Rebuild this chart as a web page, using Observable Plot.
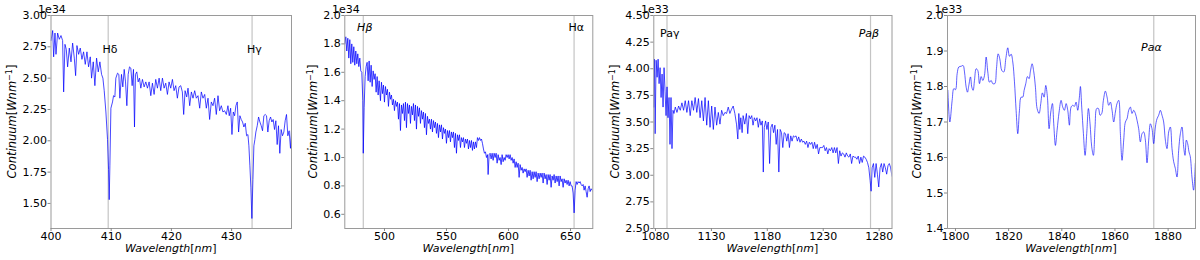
<!DOCTYPE html>
<html><head><meta charset="utf-8">
<script src="https://cdn.jsdelivr.net/npm/d3@7"></script>
<script src="https://cdn.jsdelivr.net/npm/@observablehq/plot@0.6"></script>
<style>
html,body{margin:0;padding:0;background:#fff;}
#wrap{position:relative;width:1200px;height:260px;overflow:hidden;}
#wrap svg{position:absolute;top:0;max-width:none;background:transparent;}
</style></head><body><div id="wrap"></div>
<script>
// ---------- Panel 1: 400-440 nm (units 1e34) ----------
const p1Wave = [400.0,400.28,400.44,400.66,400.83,401.1,401.38,401.66,401.93,402.1,
402.32,402.54,402.76,403.04,403.32,403.59,403.87,404.09,404.31,404.59,
404.86,405.14,405.41,405.69,405.97,406.24,406.52,406.74,407.02,407.29,
407.57,407.85,408.12,408.4,408.62,408.84,409.12,409.39,409.56,409.67,
409.78,409.95,410.22,410.39,410.61,410.77,411.05,411.27,411.44,411.71,
411.93,412.16,412.38,412.6,412.82,413.04,413.26,413.48,413.7,413.87,
414.03,414.25,414.48,414.7,414.92,415.19,415.47,415.75,416.02,416.3,
416.58,416.85,417.13,417.4,417.68,417.96,418.23,418.51,418.79,419.06,
419.34,419.61,419.89,420.17,420.44,420.72,420.99,421.27,421.55,421.82,
422.04,422.27,422.54,422.76,423.04,423.32,423.59,423.87,424.14,424.42,
424.7,424.97,425.25,425.53,425.8,426.08,426.35,426.63,426.91,427.18,
427.46,427.74,428.01,428.29,428.56,428.84,429.12,429.39,429.61,429.84,
430.06,430.28,430.5,430.72,430.94,431.16,431.38,431.6,431.82,432.04,
432.27,432.49,432.71,432.87,433.04,433.2,433.37,433.54,433.7,433.87,
434.03,434.26,434.48,434.7,434.92,435.14,435.36,435.58,435.8,436.02,
436.24,436.47,436.69,436.91,437.13,437.35,437.57,437.79,438.01,438.23,
438.45,438.68,438.9,439.12,439.34,439.56,439.78,439.95];
const p1Flux = [2.80,2.88,2.67,2.86,2.69,2.86,2.81,2.84,2.80,2.39,
2.77,2.73,2.59,2.74,2.63,2.78,2.66,2.52,2.76,2.69,
2.74,2.65,2.71,2.61,2.71,2.59,2.67,2.50,2.63,2.44,
2.66,2.55,2.63,2.53,2.50,2.40,2.23,2.01,1.77,1.53,
1.80,2.26,2.31,2.36,2.35,2.50,2.54,2.53,2.34,2.53,
2.43,2.57,2.47,2.28,2.53,2.59,2.58,2.44,2.57,2.11,
2.53,2.55,2.47,2.50,2.42,2.49,2.43,2.47,2.42,2.47,
2.36,2.46,2.37,2.49,2.42,2.50,2.40,2.50,2.42,2.46,
2.37,2.47,2.42,2.49,2.40,2.44,2.34,2.43,2.44,2.39,
2.21,2.40,2.35,2.42,2.28,2.39,2.34,2.40,2.34,2.36,
2.26,2.39,2.34,2.37,2.26,2.34,2.17,2.31,2.28,2.34,
2.21,2.36,2.24,2.28,2.23,2.24,2.21,2.28,2.20,2.26,
2.05,2.23,2.20,2.28,2.31,2.07,2.20,2.17,2.15,2.11,
2.14,2.04,2.05,1.96,1.80,1.63,1.38,1.69,1.96,2.01,
2.07,2.12,2.19,2.15,2.12,2.08,2.20,2.21,2.20,2.07,
2.16,2.19,2.15,2.17,2.09,2.16,1.97,2.12,1.90,2.09,
2.04,2.07,2.16,2.21,2.04,2.08,1.94,2.09];
const p1Lines = [409.5, 433.4];
const p1LineLabels = ["Hδ", "Hγ"];
const p1LabelX = [409.8, 433.8];
const p1XTicks = [400, 410, 420, 430];
const p1YTicks = [1.50, 1.75, 2.00, 2.25, 2.50, 2.75, 3.00];

// ---------- Panel 2: 468-668 nm (units 1e34) ----------
const p2Wave = [468.0,468.81,469.61,470.42,471.23,472.03,472.84,473.64,474.45,475.26,
476.06,476.87,477.68,478.48,479.29,480.1,480.9,481.71,482.52,482.9,
483.59,484.4,485.2,486.01,486.82,487.62,488.43,489.24,490.04,490.85,
491.65,492.46,493.27,494.07,494.88,495.69,496.76,497.57,498.37,499.18,
499.99,500.79,501.6,502.41,503.21,504.02,504.83,505.63,506.44,507.24,
508.05,508.86,509.66,510.47,511.28,512.08,512.89,513.7,514.5,515.31,
516.12,516.92,517.73,518.53,519.34,520.15,520.95,521.76,522.57,523.37,
524.18,524.99,525.79,526.6,527.4,528.21,529.02,529.82,530.63,531.44,
532.24,533.05,533.86,534.66,535.47,536.28,537.08,537.89,538.69,539.5,
540.31,541.11,541.92,542.73,543.53,544.34,545.15,545.95,546.76,547.56,
548.37,549.18,549.98,550.79,551.6,552.4,553.21,554.02,554.82,555.63,
556.44,557.24,558.05,558.85,559.66,560.47,561.27,562.08,562.89,563.69,
564.5,565.31,566.11,566.92,567.73,568.53,569.34,570.14,570.95,571.76,
572.56,573.37,574.18,574.98,575.79,576.6,577.4,578.21,579.01,579.82,
580.63,581.43,582.24,583.05,583.58,584.39,585.2,586.0,586.81,587.62,
588.42,589.23,590.04,590.84,591.65,592.45,593.26,594.07,594.87,595.68,
596.49,597.29,598.1,598.91,599.71,600.52,601.32,602.13,602.94,603.74,
604.55,605.36,606.16,606.97,607.78,608.58,609.39,610.2,611.0,611.81,
612.61,613.42,614.23,615.03,615.84,616.65,617.45,618.26,619.07,619.87,
620.68,621.48,622.29,623.1,623.9,624.71,625.52,626.32,627.13,627.94,
628.74,629.55,630.36,631.16,631.97,632.77,633.58,634.39,635.19,636.0,
636.81,637.61,638.42,639.23,640.03,640.84,641.64,642.45,643.26,644.06,
644.87,645.68,646.48,647.29,648.1,648.9,649.71,650.52,651.32,652.13,
652.93,653.74,654.55,655.35,656.16,656.97,657.77,658.58,659.39,660.19,
661.0,661.81,662.61,663.42,664.23,665.03,665.84,666.64,667.45,667.99];
const p2Flux = [1.80,1.85,1.75,1.84,1.70,1.83,1.66,1.80,1.67,1.78,
1.65,1.75,1.66,1.73,1.64,1.70,1.61,1.60,1.40,1.03,
1.35,1.57,1.64,1.67,1.54,1.68,1.53,1.65,1.50,1.61,
1.55,1.59,1.46,1.57,1.44,1.54,1.40,1.53,1.45,1.51,
1.39,1.50,1.44,1.48,1.36,1.46,1.41,1.44,1.37,1.41,
1.33,1.40,1.36,1.39,1.27,1.38,1.19,1.37,1.31,1.38,
1.26,1.39,1.21,1.38,1.31,1.37,1.24,1.36,1.30,1.38,
1.26,1.37,1.20,1.36,1.29,1.35,1.24,1.33,1.27,1.32,
1.21,1.31,1.16,1.29,1.24,1.27,1.20,1.27,1.18,1.26,
1.21,1.25,1.17,1.24,1.14,1.23,1.18,1.23,1.13,1.21,
1.17,1.20,1.10,1.19,1.14,1.19,1.11,1.18,1.14,1.18,
1.07,1.17,1.03,1.16,1.12,1.16,1.07,1.14,1.11,1.14,
1.07,1.13,1.10,1.13,1.06,1.12,1.07,1.12,1.05,1.11,
1.06,1.11,1.07,1.14,1.12,1.14,1.12,1.13,1.10,1.06,
1.03,1.04,1.00,1.02,0.88,1.02,1.03,0.99,1.03,0.98,
1.03,1.00,1.03,0.96,1.02,0.98,1.00,0.95,1.02,0.97,
1.00,0.98,1.02,1.00,1.02,0.99,1.02,0.98,1.00,0.96,
0.99,0.93,0.97,0.93,0.96,0.86,0.95,0.91,0.93,0.89,
0.92,0.90,0.92,0.86,0.91,0.87,0.91,0.84,0.90,0.85,
0.90,0.86,0.90,0.83,0.89,0.85,0.89,0.86,0.89,0.82,
0.89,0.85,0.88,0.81,0.88,0.84,0.88,0.79,0.87,0.84,
0.88,0.82,0.87,0.83,0.87,0.80,0.87,0.83,0.85,0.79,
0.85,0.82,0.84,0.81,0.84,0.80,0.83,0.80,0.80,0.75,
0.61,0.77,0.83,0.81,0.83,0.82,0.83,0.81,0.80,0.81,
0.77,0.80,0.76,0.72,0.78,0.80,0.76,0.78,0.77,0.76];
const p2Lines = [482.9, 652.9];
const p2LineLabels = ["Hβ", "Hα"];
const p2LabelX = [484.1, 654.6];
const p2XTicks = [500, 550, 600, 650];
const p2YTicks = [0.6, 0.8, 1.0, 1.2, 1.4, 1.6, 1.8, 2.0];

// ---------- Panel 3: 1078-1292 nm (units 1e33) ----------
const p3Wave = [1078.5,1079.09,1079.68,1080.57,1081.46,1082.35,1083.23,1084.12,1085.01,1085.9,
1086.78,1087.67,1088.56,1089.44,1090.33,1091.22,1092.11,1092.99,1093.88,1094.77,
1095.66,1096.54,1097.73,1099.21,1100.69,1102.16,1103.64,1105.12,1106.6,1108.08,
1109.56,1111.04,1112.52,1114.0,1115.48,1116.95,1118.43,1119.91,1121.39,1122.87,
1124.35,1125.83,1127.31,1128.79,1130.27,1131.74,1133.22,1134.7,1136.18,1137.66,
1139.14,1140.62,1142.1,1143.58,1145.06,1146.53,1148.01,1149.49,1150.97,1152.45,
1153.63,1154.52,1155.41,1156.3,1157.48,1158.37,1159.85,1161.32,1162.51,1163.69,
1164.87,1166.06,1167.24,1168.42,1169.61,1170.79,1171.97,1173.16,1174.34,1175.52,
1176.41,1177.3,1178.48,1179.66,1180.85,1182.03,1183.21,1184.4,1185.58,1186.76,
1187.95,1189.13,1190.31,1191.5,1192.68,1193.86,1195.05,1196.23,1197.41,1198.59,
1199.78,1200.96,1202.14,1203.33,1204.51,1205.69,1206.88,1208.06,1209.24,1210.43,
1211.61,1212.79,1213.98,1215.16,1216.34,1217.53,1218.71,1219.89,1221.08,1222.26,
1223.44,1224.63,1225.81,1226.99,1228.17,1229.36,1230.54,1231.72,1232.91,1234.09,
1235.27,1236.46,1237.64,1238.82,1240.01,1241.19,1242.37,1243.56,1244.74,1245.92,
1247.11,1248.29,1249.47,1250.66,1251.84,1253.02,1254.21,1255.39,1256.57,1257.75,
1258.94,1260.12,1261.3,1262.49,1263.67,1264.85,1266.04,1267.22,1268.4,1269.59,
1270.77,1271.95,1272.84,1273.73,1274.91,1276.09,1277.28,1278.46,1279.64,1280.83,
1282.01,1283.19,1284.38,1285.56,1286.74,1287.93,1289.11,1290.29,1291.48];
const p3Flux = [3.64,4.09,3.39,4.08,3.92,4.09,3.86,4.01,3.73,3.95,
3.64,4.01,3.79,3.56,3.83,3.54,3.73,3.29,3.73,3.25,
3.61,3.58,3.64,3.59,3.65,3.61,3.68,3.61,3.70,3.59,
3.70,3.56,3.70,3.61,3.73,3.59,3.72,3.54,3.70,3.51,
3.73,3.47,3.70,3.45,3.65,3.43,3.64,3.47,3.59,3.48,
3.61,3.56,3.59,3.58,3.64,3.58,3.62,3.65,3.58,3.48,
3.34,3.58,3.43,3.54,3.40,3.56,3.48,3.58,3.39,3.56,
3.53,3.56,3.47,3.54,3.51,3.54,3.45,3.53,3.47,3.51,
3.03,3.45,3.51,3.43,3.50,3.11,3.45,3.48,3.40,3.47,
3.29,3.43,3.03,3.43,3.40,3.26,3.40,3.39,3.32,3.39,
3.26,3.37,3.32,3.37,3.36,3.37,3.32,3.36,3.31,3.34,
3.31,3.32,3.29,3.32,3.26,3.31,3.29,3.31,3.25,3.31,
3.25,3.29,3.20,3.26,3.26,3.26,3.28,3.23,3.26,3.20,
3.25,3.23,3.26,3.21,3.26,3.21,3.26,3.11,3.23,3.18,
3.21,3.20,3.17,3.21,3.18,3.17,3.20,3.11,3.18,3.17,
3.17,3.15,3.18,3.11,3.17,3.12,3.18,3.17,3.15,3.12,
3.07,2.95,2.85,3.07,3.11,2.98,3.11,3.01,2.89,3.07,
3.11,3.03,3.11,3.07,3.01,3.09,3.11,3.07,2.99];
const p3Lines = [1090.3, 1272.3];
const p3LineLabels = ["Paγ", "Paβ"];
const p3LabelX = [1092.8, 1270.8];
const p3XTicks = [1080, 1130, 1180, 1230, 1280];
const p3YTicks = [2.50, 2.75, 3.00, 3.25, 3.50, 3.75, 4.00, 4.25, 4.50];

// ---------- Panel 4: 1797-1890 nm (units 1e33) ----------
const p4Wave = [1797.13,1797.88,1798.75,1799.38,1800.01,1800.63,1801.26,1802.14,1802.89,1803.39,
1804.02,1804.52,1805.02,1805.65,1806.15,1806.65,1807.15,1807.78,1808.4,1809.03,
1809.66,1810.28,1810.91,1811.54,1812.16,1812.79,1813.42,1814.04,1814.79,1815.42,
1816.05,1816.67,1817.43,1818.18,1818.93,1819.68,1820.31,1820.94,1821.56,1822.19,
1822.81,1823.44,1824.07,1824.69,1825.32,1825.82,1826.45,1827.08,1827.7,1828.2,
1828.83,1829.46,1830.08,1830.71,1831.46,1832.09,1832.71,1833.34,1833.97,1834.59,
1835.22,1835.85,1836.47,1836.97,1837.6,1838.23,1838.98,1839.73,1840.36,1840.99,
1841.61,1842.24,1842.86,1843.49,1844.12,1844.74,1845.37,1846.0,1846.62,1847.0,
1847.5,1848.13,1848.76,1849.38,1850.01,1850.63,1851.26,1851.89,1852.51,1853.14,
1853.77,1854.39,1855.02,1855.65,1856.4,1857.03,1857.65,1858.28,1858.91,1859.53,
1860.16,1860.78,1861.41,1862.04,1862.66,1863.29,1863.92,1864.54,1865.17,1865.8,
1866.42,1867.05,1867.68,1868.3,1868.93,1869.56,1870.18,1870.81,1871.44,1872.06,
1872.69,1873.32,1873.94,1874.57,1875.2,1875.82,1876.45,1877.08,1877.7,1878.33,
1878.96,1879.58,1880.21,1880.84,1881.46,1882.09,1882.72,1883.34,1883.97,1884.6,
1885.22,1885.85,1886.35,1886.85,1887.35,1887.85,1888.35,1888.97,1889.6,1890.23];
const p4Flux = [1.789,1.700,1.761,1.794,1.791,1.836,1.855,1.857,1.859,1.841,
1.798,1.784,1.803,1.827,1.798,1.789,1.817,1.850,1.845,1.808,
1.828,1.817,1.831,1.883,1.841,1.812,1.817,1.808,1.808,1.850,
1.892,1.878,1.845,1.841,1.878,1.909,1.885,1.891,1.869,1.813,
1.733,1.667,1.733,1.770,1.770,1.789,1.808,1.828,1.822,1.843,
1.864,1.841,1.798,1.738,1.724,1.752,1.782,1.770,1.803,1.770,
1.681,1.728,1.752,1.695,1.634,1.677,1.728,1.761,1.742,1.733,
1.752,1.733,1.691,1.742,1.747,1.744,1.756,1.733,1.770,1.800,
1.742,1.667,1.606,1.667,1.738,1.695,1.630,1.606,1.686,1.738,
1.738,1.719,1.724,1.761,1.787,1.770,1.747,1.756,1.733,1.700,
1.728,1.752,1.761,1.667,1.592,1.649,1.700,1.709,1.733,1.742,
1.724,1.733,1.724,1.705,1.681,1.644,1.667,1.672,1.649,1.585,
1.649,1.695,1.681,1.639,1.686,1.709,1.719,1.733,1.719,1.700,
1.649,1.625,1.672,1.686,1.625,1.588,1.569,1.545,1.620,1.667,
1.686,1.630,1.606,1.649,1.639,1.616,1.602,1.545,1.508,1.583];
const p4Lines = [1874.6];
const p4LineLabels = ["Paα"];
const p4LabelX = [1873.7];
const p4XTicks = [1800, 1820, 1840, 1860, 1880];
const p4YTicks = [1.4, 1.5, 1.6, 1.7, 1.8, 1.9, 2.0];

// ---------- layout / rendering ----------
const FONT = "'DejaVu Sans', sans-serif";
const panels = [
  {wave:p1Wave, flux:p1Flux, lines:p1Lines, names:p1LineLabels, labX:p1LabelX, labY:2.73, italic:[false,false],
   xTicks:p1XTicks, yTicks:p1YTicks, xDom:[400,439.95], yDom:[1.3,3.0], yFmt:".2f", offset:"1e34",
   left:0, width:300, mL:50.5, mR:9, yLabX:12, curve:"linear", op:0.72},
  {wave:p2Wave, flux:p2Flux, lines:p2Lines, names:p2LineLabels, labX:p2LabelX, labY:1.918, italic:[true,false],
   xTicks:p2XTicks, yTicks:p2YTicks, xDom:[468,668], yDom:[0.5,2.0], yFmt:".1f", offset:"1e34",
   left:300, width:300, mL:44.3, mR:7.7, yLabX:13.3, curve:"linear", op:0.75},
  {wave:p3Wave, flux:p3Flux, lines:p3Lines, names:p3LineLabels, labX:p3LabelX, labY:4.33, italic:[false,true],
   xTicks:p3XTicks, yTicks:p3YTicks, xDom:[1078.5,1291.5], yDom:[2.5,4.5], yFmt:".2f", offset:"1e33",
   left:600, width:300, mL:53.3, mR:8.5, yLabX:15, curve:"linear", op:0.72},
  {wave:p4Wave, flux:p4Flux, lines:p4Lines, names:p4LineLabels, labX:p4LabelX, labY:1.911, italic:[true],
   xTicks:p4XTicks, yTicks:p4YTicks, xDom:[1797,1890.3], yDom:[1.4,2.0], yFmt:".1f", offset:"1e33",
   left:900, width:300, mL:47, mR:5, yLabX:17, curve:"catmull-rom", op:0.62}
];

const wrap = document.getElementById("wrap");
for (const p of panels) {
  const data = p.wave.map((w, i) => ({w, f: p.flux[i]}));
  const marks = p.lines.map((l, i) => ({l, name: p.names[i], lx: p.labX[i], ly: p.labY, it: p.italic[i]}));
  const svg = Plot.plot({
    width: p.width, height: 260,
    marginLeft: p.mL, marginRight: p.mR, marginTop: 15, marginBottom: 32,
    style: {fontFamily: FONT, fontSize: "11px", color: "black", background: "transparent", overflow: "visible"},
    x: {domain: p.xDom, label: null},
    y: {domain: p.yDom, label: null},
    marks: [
      Plot.ruleX(marks, {x: "l", stroke: "#c4c4c4", strokeWidth: 1.2}),
      Plot.line(data, {x: "w", y: "f", stroke: "#0000ff", strokeOpacity: p.op, strokeWidth: 1, curve: p.curve, clip: true}),
      Plot.text(marks.filter(d => !d.it), {x: "lx", y: "ly", text: "name", fill: "black", fontSize: 11, textAnchor: "middle"}),
      Plot.text(marks.filter(d => d.it), {x: "lx", y: "ly", text: "name", fill: "black", fontSize: 11, textAnchor: "middle", fontStyle: "italic"}),
      Plot.frame({stroke: "#9a9a9a", strokeWidth: 1}),
      Plot.axisX({ticks: p.xTicks, tickFormat: d3.format("d"), tickSize: 3, tickPadding: 1, stroke: "#888", fill: "black", label: null}),
      Plot.axisY({ticks: p.yTicks, tickFormat: d3.format(p.yFmt), tickSize: 3, tickPadding: 1, stroke: "#888", fill: "black", label: null})
    ]
  });
  svg.style.left = p.left + "px";
  wrap.appendChild(svg);

  const s = d3.select(svg);
  const g = s.append("g").attr("font-family", FONT).attr("fill", "black");
  const cx = (p.mL + (p.width - p.mR)) / 2;
  const xl = g.append("text").attr("x", cx).attr("y", 252).attr("text-anchor", "middle").attr("font-size", 11);
  xl.append("tspan").attr("font-style", "italic").text("Wavelength");
  xl.append("tspan").text("[");
  xl.append("tspan").attr("font-style", "italic").text("nm");
  xl.append("tspan").text("]");
  const yl = g.append("text").attr("transform", `translate(${p.yLabX},121.5) rotate(-90)`).attr("text-anchor", "middle").attr("dy", "0.35em").attr("font-size", 11.5);
  yl.append("tspan").attr("font-style", "italic").text("Continuum");
  yl.append("tspan").text("[");
  yl.append("tspan").attr("font-style", "italic").text("Wnm");
  yl.append("tspan").attr("font-size", 8).attr("dy", -4.5).text("−1");
  yl.append("tspan").attr("dy", 4.5).text("]");
  g.append("text").attr("x", p.mL + 1.5).attr("y", 13).attr("font-size", 11).text(p.offset);
}
</script></body></html>
